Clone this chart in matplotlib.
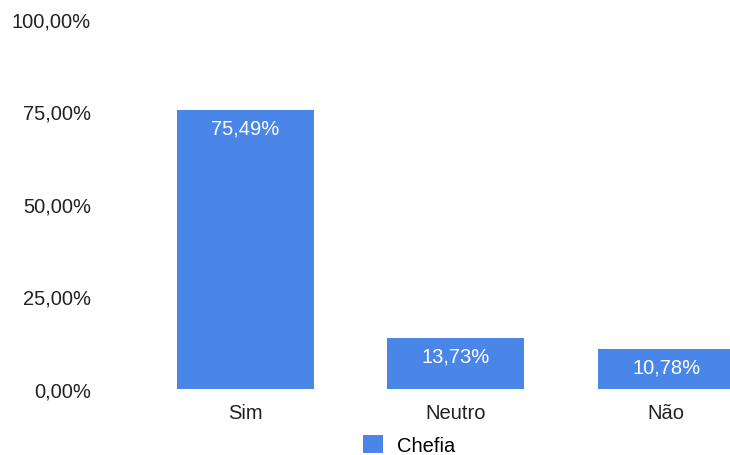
import matplotlib
matplotlib.use("Agg")
import matplotlib.pyplot as plt
from matplotlib.patches import Patch

categories = ["Sim", "Neutro", "Não"]
values = [75.49, 13.73, 10.78]
yticks = [0, 25, 50, 75, 100]
series_name = "Chefia"
color = "#4a86e8"

plt.rcParams['font.family'] = ['Liberation Sans', 'DejaVu Sans']
W, H = 730, 456
fig = plt.figure(figsize=(W / 100, H / 100), dpi=100)
ax_left, ax_right, ax_top, ax_bot = 105, 730, 20, 390
ax = fig.add_axes([ax_left / W, (H - ax_bot) / H, (ax_right - ax_left) / W, (ax_bot - ax_top) / H])

x = list(range(len(categories)))
ax.bar(x, values, width=0.652, color=color)
ax.set_xlim(-0.668, 2.304)
ax.set_ylim(0, 100)

def fmt(v):
    return f"{v:.2f}".replace(".", ",") + "%"

FS = 14.5
for xi, v in zip(x, values):
    ax.annotate(fmt(v), (xi, v), xytext=(0, -13), textcoords="offset points",
                ha="center", va="center", color="white", fontsize=FS)

ax.set_yticks(yticks)
ax.set_yticklabels([fmt(t) for t in yticks], fontsize=FS, color="#222222")
ax.set_xticks(x)
ax.set_xticklabels(categories, fontsize=FS, color="#222222")
ax.tick_params(axis="both", length=0)
ax.tick_params(axis="y", pad=10)
ax.tick_params(axis="x", pad=10)
for s in ax.spines.values():
    s.set_visible(False)

fig.legend(handles=[Patch(facecolor=color, label=series_name)], loc="center",
           bbox_to_anchor=(409 / W, 1 - 446 / H), frameon=False, fontsize=FS,
           handlelength=1.0, handleheight=1.0, handletextpad=0.7)

fig.savefig("out.png", dpi=100)
